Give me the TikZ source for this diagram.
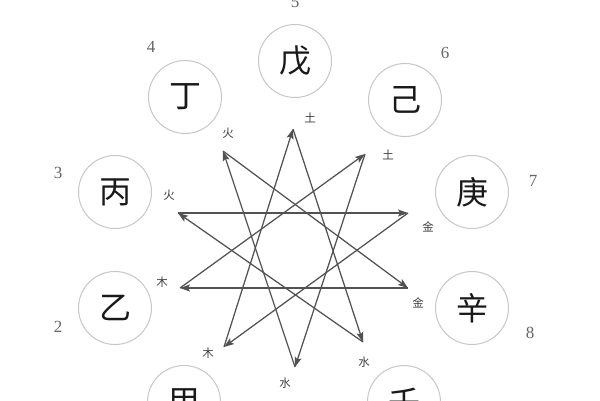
\documentclass[tikz,border=0pt]{standalone}
\usepackage{fontspec}
\setmainfont{Liberation Serif}
\newfontfamily\cjk{Noto Sans CJK SC}
\usetikzlibrary{arrows.meta}
\begin{document}
\begin{tikzpicture}[x=1pt,y=-1pt,
  stem/.style={circle,draw=black!22,line width=1pt,minimum size=73pt,inner sep=0pt,
    font=\cjk\fontsize{32}{32}\selectfont,text=black!90},
  num/.style={font=\fontsize{17}{17}\selectfont,text=black!60,inner sep=0pt},
  elem/.style={font=\cjk\fontsize{11.5}{11.5}\selectfont,text=black!75,inner sep=0pt},
  arr/.style={draw=black!68,line width=1.25pt,-{Stealth[length=10pt,width=7pt,inset=2pt]}}]
\useasboundingbox (0,0) rectangle (600,400);
\clip (0,0) rectangle (600,400);
\fill[white] (0,0) rectangle (600,400);
% stems
\node[stem] (s5) at (295,61) {戊};
\node[stem] (s4) at (185,97) {丁};
\node[stem] (s6) at (405,100) {己};
\node[stem] (s3) at (115,192) {丙};
\node[stem] (s7) at (472,192) {庚};
\node[stem] (s2) at (115,308) {乙};
\node[stem] (s8) at (472,308) {辛};
\node[stem] (s1) at (184,402) {甲};
\node[stem] (s9) at (404,402) {壬};
\node[stem] (s10) at (294,438) {};
% numbers
\node[num] (n5) at (295,2) {5};
\node[num] (n4) at (151,47) {4};
\node[num] (n6) at (445,53) {6};
\node[num] (n3) at (58,173) {3};
\node[num] (n7) at (533,181) {7};
\node[num] (n2) at (58,327) {2};
\node[num] (n8) at (530,333) {8};
% star vertices
\coordinate (v0) at (293,129);
\coordinate (v1) at (365,154);
\coordinate (v2) at (408,213);
\coordinate (v3) at (408,288);
\coordinate (v4) at (363,342);
\coordinate (v5) at (295,367);
\coordinate (v6) at (224,347);
\coordinate (v7) at (180,288);
\coordinate (v8) at (178,213);
\coordinate (v9) at (223,151);
% element labels
\node[elem] (l0) at (310,118) {土};
\node[elem] (l1) at (388,155) {土};
\node[elem] (l2) at (428,227) {金};
\node[elem] (l3) at (418,303) {金};
\node[elem] (l4) at (364,362) {水};
\node[elem] (l5) at (285,383) {水};
\node[elem] (l6) at (208,353) {木};
\node[elem] (l7) at (162,282) {木};
\node[elem] (l8) at (169,195) {火};
\node[elem] (l9) at (228,133) {火};
% arrows (controlling cycle)
\draw[arr] (v8) -- (v2);
\draw[arr] (v2) -- (v6);
\draw[arr] (v6) -- (v0);
\draw[arr] (v0) -- (v4);
\draw[arr] (v4) -- (v8);
\draw[arr] (v9) -- (v3);
\draw[arr] (v3) -- (v7);
\draw[arr] (v7) -- (v1);
\draw[arr] (v1) -- (v5);
\draw[arr] (v5) -- (v9);
\end{tikzpicture}
\end{document}
